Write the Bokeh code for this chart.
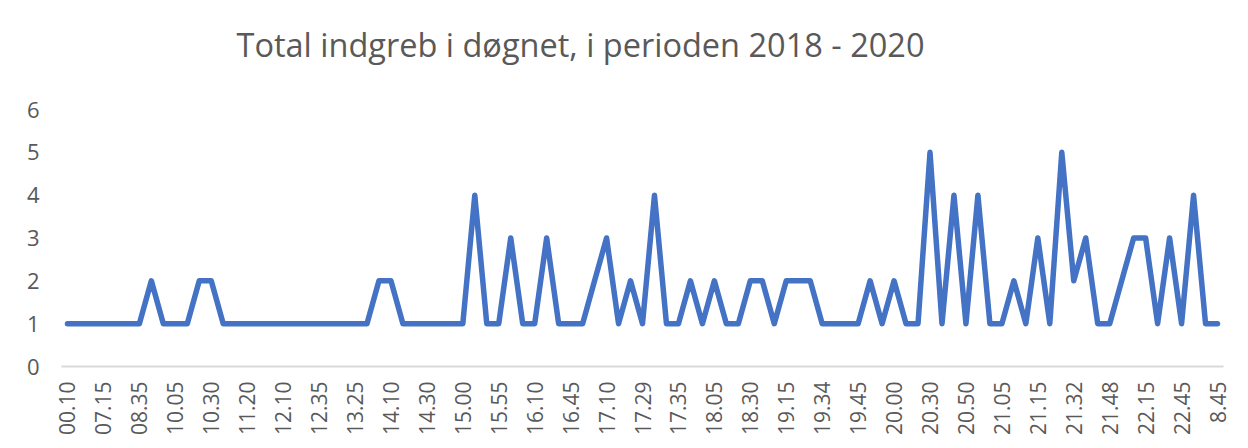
from bokeh.plotting import figure
from bokeh.models import FixedTicker, Range1d, Label
from bokeh.embed import file_html
from bokeh.resources import INLINE

# Category labels shown on the x axis (every third category)
tick_labels = ["00.10", "07.15", "08.35", "10.05", "10.30", "11.20", "12.10", "12.35",
               "13.25", "14.10", "14.30", "15.00", "15.55", "16.10", "16.45", "17.10",
               "17.29", "17.35", "18.05", "18.30", "19.15", "19.34", "19.45", "20.00",
               "20.30", "20.50", "21.05", "21.15", "21.32", "21.48", "22.15", "22.45", "8.45"]
label_step = 3
y_ticks = [0, 1, 2, 3, 4, 5, 6]

# Number of interventions per time slot (97 slots)
values = [1, 1, 1, 1, 1, 1, 1, 2, 1, 1,
          1, 2, 2, 1, 1, 1, 1, 1, 1, 1,
          1, 1, 1, 1, 1, 1, 2, 2, 1, 1,
          1, 1, 1, 1, 4, 1, 1, 3, 1, 1,
          3, 1, 1, 1, 2, 3, 1, 2, 1, 4,
          1, 1, 2, 1, 2, 1, 1, 2, 2, 1,
          2, 2, 2, 1, 1, 1, 1, 2, 1, 2,
          1, 1, 5, 1, 4, 1, 4, 1, 1, 2,
          1, 3, 1, 5, 2, 3, 1, 1, 2, 3,
          3, 1, 3, 1, 4, 1, 1]

title_text = "Total indgreb i døgnet, i perioden 2018 - 2020"

x = list(range(len(values)))

TEXT = "#595959"
FONT = "Open Sans"

# layout (pixels)
plot_h = 257          # height of the 0..6 value area
extra_top = 90        # room above the value area for the title
frame_h = plot_h + extra_top
y_top = max(y_ticks) * frame_h / plot_h

p = figure(frame_width=1162, frame_height=frame_h, output_backend="svg", toolbar_location=None,
           x_range=Range1d(-0.5, len(values) - 0.5), y_range=Range1d(0, y_top),
           min_border_left=61, min_border_right=9, min_border_top=19, min_border_bottom=64)

p.add_layout(Label(x=519, y=322, x_units="screen", y_units="screen", text=title_text,
                   text_font=FONT, text_font_size="32.5px", text_color=TEXT,
                   text_align="center", text_baseline="alphabetic"))

p.line(x, values, line_color="#4472C4", line_width=5.5, line_join="round", line_cap="round")

p.outline_line_color = None
p.grid.visible = False
p.background_fill_color = "white"
p.border_fill_color = "white"

xt = [i * label_step for i in range(len(tick_labels))]
p.xaxis.ticker = FixedTicker(ticks=xt)
p.xaxis.major_label_overrides = {t: lab for t, lab in zip(xt, tick_labels)}
p.xaxis.major_label_orientation = 1.5707963
p.xaxis.major_label_text_font = FONT
p.xaxis.major_label_text_font_size = "21px"
p.xaxis.major_label_text_color = TEXT
p.xaxis.major_tick_line_color = None
p.xaxis.minor_tick_line_color = None
p.xaxis.major_tick_out = 0
p.xaxis.major_tick_in = 0
p.xaxis.minor_tick_out = 0
p.xaxis.axis_line_color = "#d9d9d9"
p.xaxis.axis_line_width = 2
p.xaxis.major_label_standoff = 15

p.yaxis.ticker = FixedTicker(ticks=y_ticks)
p.yaxis.major_label_text_font = FONT
p.yaxis.major_label_text_font_size = "22px"
p.yaxis.major_label_text_color = TEXT
p.yaxis.major_tick_line_color = None
p.yaxis.minor_tick_line_color = None
p.yaxis.major_tick_out = 0
p.yaxis.major_tick_in = 0
p.yaxis.minor_tick_out = 0
p.yaxis.axis_line_color = None
p.yaxis.major_label_standoff = 22

open("out.html", "w").write(file_html(p, INLINE))
